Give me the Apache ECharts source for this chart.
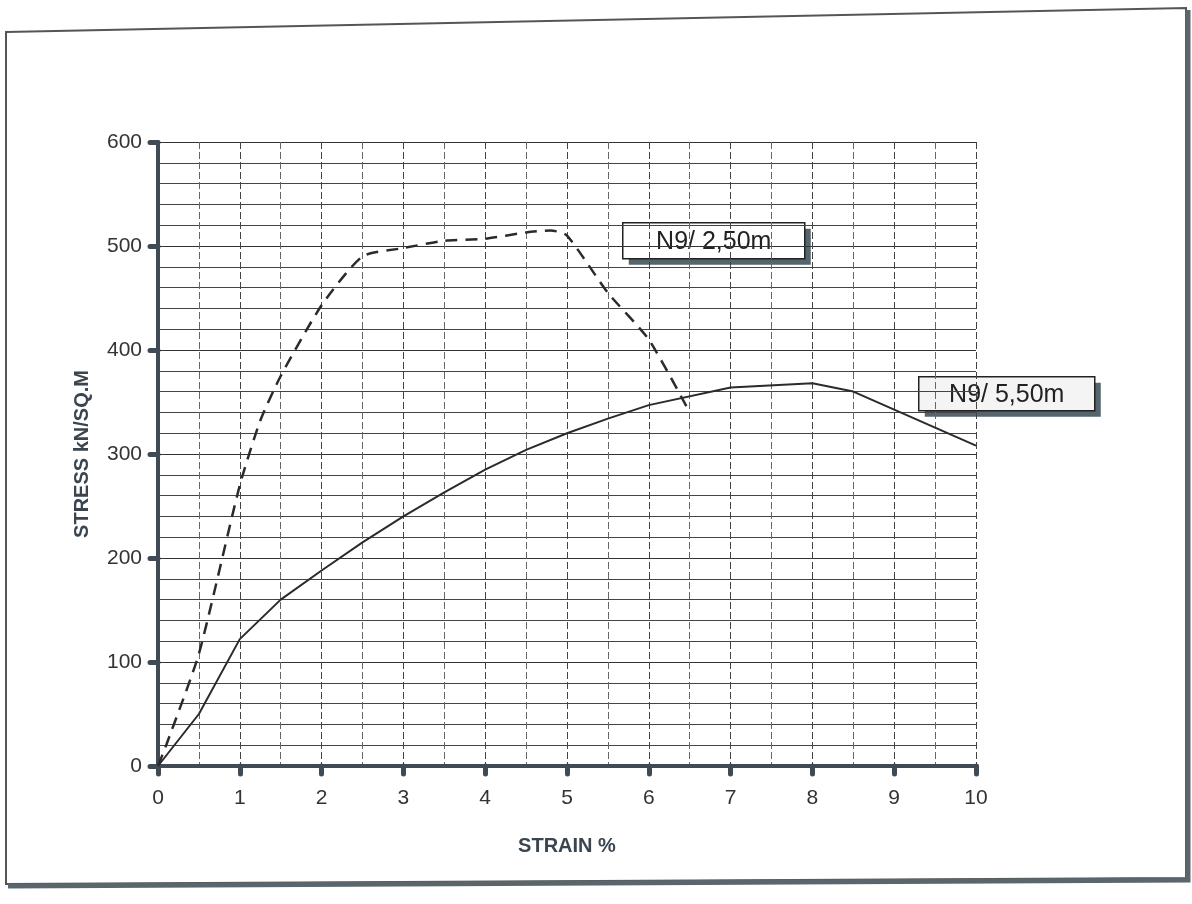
<!DOCTYPE html>
<html><head><meta charset="utf-8">
<script src="https://cdn.jsdelivr.net/npm/echarts@6/dist/echarts.min.js"></script>
<style>html,body{margin:0;padding:0;background:#fff}#c{width:1192px;height:904px}</style>
</head><body><div id="c"></div>
<script>
// Data
const seriesNames = ['N9/ 2,50m', 'N9/ 5,50m'];
const strain250 = [0, 0.1, 0.5, 1, 1.25, 1.5, 2, 2.5, 3, 3.5, 4, 4.5, 4.8, 5, 5.5, 6, 6.5];
const stress250 = [0, 20, 108, 270, 332, 375, 443, 490, 498, 505, 507, 513, 515, 510, 455, 410, 340];
const strain550 = [0, 0.5, 1, 1.5, 2, 2.5, 3, 3.5, 4, 4.5, 5, 5.5, 6, 7, 8, 8.5, 10];
const stress550 = [0, 50, 122, 160, 188, 215, 240, 263, 285, 304, 320, 334, 347, 364, 368, 360, 308];
const xTitle = 'STRAIN %';
const yTitle = 'STRESS kN/SQ.M';

const pairs = (xs, ys) => xs.map((x, i) => [x, ys[i]]);
const chart = echarts.init(document.getElementById('c'), null, {renderer: 'canvas'});
const font = '"Liberation Sans", Arial, sans-serif';

function box(left, top, w, h, text, fill) {
  return {
    type: 'group', left: left, top: top, z: 100,
    children: [
      {type: 'rect', shape: {x: 6, y: 6, width: w, height: h}, style: {fill: '#55656c'}},
      {type: 'rect', shape: {x: 0, y: 0, width: w, height: h}, style: {fill: fill, stroke: '#222', lineWidth: 1.5}},
      {type: 'text', style: {x: w / 2, y: h / 2 + 1, text: text, fill: '#222', font: '25px ' + font, align: 'center', verticalAlign: 'middle'}}
    ]
  };
}

chart.setOption({
  backgroundColor: '#fff',
  animation: false,
  grid: {left: 158, right: 216, top: 142, bottom: 138, show: false},
  xAxis: {
    type: 'value', min: 0, max: 10, interval: 1,
    name: xTitle, nameLocation: 'middle', nameGap: 70,
    nameTextStyle: {fontFamily: font, fontWeight: 'bold', fontSize: 20, color: '#3a4550'},
    axisLine: {onZero: false, lineStyle: {color: '#3f4a55', width: 4}},
    axisTick: {show: true, length: 8, lineStyle: {color: '#3f4a55', width: 5, cap: 'round'}},
    axisLabel: {fontFamily: font, fontSize: 21, color: '#333', margin: 22},
    splitLine: {show: true, lineStyle: {color: '#444', width: 1, type: [7, 3]}},
    minorTick: {show: false, splitNumber: 2},
    minorSplitLine: {show: true, lineStyle: {color: '#666', width: 1, type: [7, 3]}}
  },
  yAxis: {
    type: 'value', min: 0, max: 600, interval: 100,
    name: yTitle, nameLocation: 'middle', nameGap: 66, nameRotate: 90,
    nameTextStyle: {fontFamily: font, fontWeight: 'bold', fontSize: 20, color: '#3a4550'},
    axisLine: {show: true, onZero: false, lineStyle: {color: '#3f4a55', width: 4}},
    axisTick: {show: true, length: 8, lineStyle: {color: '#3f4a55', width: 5, cap: 'round'}},
    axisLabel: {fontFamily: font, fontSize: 21, color: '#333', margin: 16},
    splitLine: {show: true, lineStyle: {color: '#333', width: 1}},
    minorTick: {show: false, splitNumber: 5},
    minorSplitLine: {show: true, lineStyle: {color: '#444', width: 1}}
  },
  series: [
    {
      name: seriesNames[0], type: 'line', data: pairs(strain250, stress250),
      symbol: 'none', smooth: 0.2, z: 5,
      lineStyle: {color: '#2b2b2b', width: 2.5, type: [12, 8]}
    },
    {
      name: seriesNames[1], type: 'line', data: pairs(strain550, stress550),
      symbol: 'none', smooth: false, z: 5,
      lineStyle: {color: '#2b2b2b', width: 2}
    }
  ],
  graphic: [
    {type: 'polygon', z: -1, shape: {points: [[6, 32], [1186, 8], [1186, 878], [6, 884]]},
     style: {fill: 'none', stroke: '#555', lineWidth: 2}},
    {type: 'polyline', z: -1, shape: {points: [[1188, 10], [1188, 880], [8, 886]]},
     style: {fill: 'none', stroke: '#5a666c', lineWidth: 5}},
    box(622, 222, 182, 36, seriesNames[0], '#fff'),
    box(918, 376, 176, 34, seriesNames[1], '#f4f4f4')
  ]
});
</script></body></html>
